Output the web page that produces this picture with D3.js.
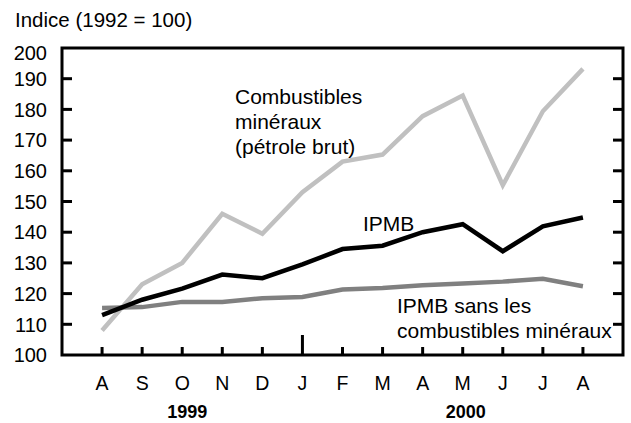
<!DOCTYPE html>
<html>
<head>
<meta charset="utf-8">
<script src="https://cdn.jsdelivr.net/npm/d3@7"></script>
<style>
  body { margin: 0; background: #fff; }
  svg text { font-family: "Liberation Sans", Arial, sans-serif; fill: #000; }
</style>
</head>
<body>
<svg width="631" height="423"></svg>
<script>
// months from August 1999 to August 2000
var months = ['A', 'S', 'O', 'N', 'D', 'J', 'F', 'M', 'A', 'M', 'J', 'J', 'A'];
var years = ['1999', '2000'];
var yTicks = [100, 110, 120, 130, 140, 150, 160, 170, 180, 190, 200];

// index values, 1992 = 100
var combustibles = [108, 123, 130, 146, 139.5, 153, 163, 165.3, 177.8, 184.5, 155.3, 179.4, 193.2];
var ipmb = [113, 118, 121.6, 126.2, 125, 129.5, 134.5, 135.6, 140, 142.6, 133.8, 141.9, 144.8];
var sansComb = [115.3, 115.6, 117.3, 117.3, 118.5, 118.9, 121.3, 121.8, 122.7, 123.3, 123.9, 124.8, 122.4];

var svg = d3.select('svg');

// plot frame (window.top is reserved, so no "top" here)
var pLeft = 62, pRight = 623, pTop = 48, pBottom = 355;

var x = d3.scalePoint()
	.domain(d3.range(months.length))
	.range([pLeft, pRight])
	.padding(1);

var y = d3.scaleLinear()
	.domain([100, 200])
	.range([pBottom, pTop]);

// axis title
svg.append('text')
	.attr('x', 15)
	.attr('y', 27)
	.style('font-size', '20.5px')
	.text('Indice (1992 = 100)');

// series lines, lightest first
var line = d3.line()
	.x(function(d, i) { return x(i); })
	.y(function(d) { return y(d); });

var series = [
	{ values: combustibles, color: '#c0c0c0' },
	{ values: sansComb, color: '#808080' },
	{ values: ipmb, color: '#000000' }
];

svg.selectAll('path.serie')
	.data(series)
	.enter()
	.append('path')
	.attr('class', 'serie')
	.attr('d', function(d) { return line(d.values); })
	.attr('fill', 'none')
	.attr('stroke', function(d) { return d.color; })
	.attr('stroke-width', 4.5)
	.attr('stroke-linejoin', 'miter');

// frame
svg.append('rect')
	.attr('x', pLeft)
	.attr('y', pTop)
	.attr('width', pRight - pLeft)
	.attr('height', pBottom - pTop)
	.attr('fill', 'none')
	.attr('stroke', '#000')
	.attr('stroke-width', 3);

// y ticks, inward on both sides
var yInner = yTicks.filter(function(d) { return d > 100 && d < 200; });
svg.selectAll('line.yl')
	.data(yInner)
	.enter()
	.append('line')
	.attr('x1', pLeft).attr('x2', pLeft + 10)
	.attr('y1', function(d) { return y(d); })
	.attr('y2', function(d) { return y(d); })
	.attr('stroke', '#000').attr('stroke-width', 3);

svg.selectAll('line.yr')
	.data(yInner)
	.enter()
	.append('line')
	.attr('x1', pRight - 10).attr('x2', pRight)
	.attr('y1', function(d) { return y(d); })
	.attr('y2', function(d) { return y(d); })
	.attr('stroke', '#000').attr('stroke-width', 3);

svg.selectAll('text.ylab')
	.data(yTicks)
	.enter()
	.append('text')
	.attr('x', 47)
	.attr('y', function(d) { return Math.max(y(d), pTop + 5); })
	.attr('dy', '0.36em')
	.attr('text-anchor', 'end')
	.style('font-size', '20px')
	.text(function(d) { return d; });

// x ticks, January tick is longer (year break)
svg.selectAll('line.xt')
	.data(months)
	.enter()
	.append('line')
	.attr('x1', function(d, i) { return x(i); })
	.attr('x2', function(d, i) { return x(i); })
	.attr('y1', pBottom)
	.attr('y2', function(d, i) { return i == 5 ? pBottom - 20 : pBottom - 8; })
	.attr('stroke', '#000').attr('stroke-width', 3);

svg.selectAll('text.xlab')
	.data(months)
	.enter()
	.append('text')
	.attr('x', function(d, i) { return x(i); })
	.attr('y', 390)
	.attr('text-anchor', 'middle')
	.style('font-size', '19.5px')
	.text(function(d) { return d; });

// year labels under the months
var yearPos = [(x(0) + x(4)) / 2 + 5, (x(6) + x(12)) / 2 + 3];
svg.selectAll('text.year')
	.data(years)
	.enter()
	.append('text')
	.attr('x', function(d, i) { return yearPos[i]; })
	.attr('y', 418)
	.attr('text-anchor', 'middle')
	.style('font-size', '18px')
	.style('font-weight', 'bold')
	.text(function(d) { return d; });

// series labels
var labels = [
	{ lines: ['Combustibles', 'minéraux', '(pétrole brut)'], x: 235, y: 104 },
	{ lines: ['IPMB'], x: 363, y: 231 },
	{ lines: ['IPMB sans les', 'combustibles minéraux'], x: 397, y: 313 }
];
labels.forEach(function(l) {
	var t = svg.append('text')
		.attr('x', l.x)
		.attr('y', l.y)
		.style('font-size', '21px');
	l.lines.forEach(function(s, i) {
		t.append('tspan')
			.attr('x', l.x)
			.attr('dy', i == 0 ? 0 : 25)
			.text(s);
	});
});
</script>
</body>
</html>
